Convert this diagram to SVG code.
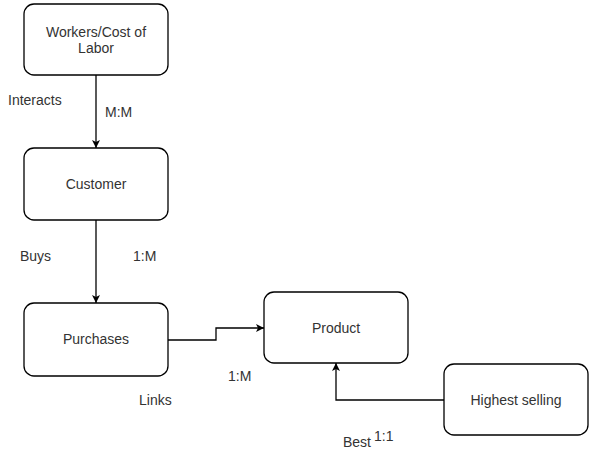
<svg xmlns="http://www.w3.org/2000/svg" width="609" height="456" viewBox="0 0 609 456">
<style>
.box{fill:#ffffff;stroke:#000000;stroke-width:1.3}
.t{font-family:"Liberation Sans",Arial,sans-serif;font-size:14px;fill:#333333}
.c{text-anchor:middle}
.ln{fill:none;stroke:#000000;stroke-width:1.3}
</style>
<defs>
<marker id="ah" viewBox="0 0 10 10" refX="10" refY="5" markerWidth="8" markerHeight="8" markerUnits="userSpaceOnUse" orient="auto">
<path d="M0,0 L10,5 L0,10 L2.5,5 z" fill="#000000"/>
</marker>
</defs>
<rect width="609" height="456" fill="#ffffff"/>
<g id="connectors">
<path class="ln" d="M96,75 L96,148" marker-end="url(#ah)"/>
<path class="ln" d="M96,220 L96,303" marker-end="url(#ah)"/>
<path class="ln" d="M168,340 L216,340 L216,328 L264,328" marker-end="url(#ah)"/>
<path class="ln" d="M444,400 L336,400 L336,363" marker-end="url(#ah)"/>
</g>
<g id="workers">
<rect class="box" x="24" y="4" width="144" height="71" rx="10"/>
<text class="t c" x="96" y="37">Workers/Cost of</text>
<text class="t c" x="96" y="53">Labor</text>
</g>
<g id="customer">
<rect class="box" x="24" y="148" width="144" height="72" rx="10"/>
<text class="t c" x="96" y="189">Customer</text>
</g>
<g id="purchases">
<rect class="box" x="24" y="303" width="144" height="73" rx="10"/>
<text class="t c" x="96" y="344">Purchases</text>
</g>
<g id="product">
<rect class="box" x="264" y="292" width="144" height="71" rx="10"/>
<text class="t c" x="336" y="333">Product</text>
</g>
<g id="highest">
<rect class="box" x="444" y="364" width="144" height="71" rx="10"/>
<text class="t c" x="516" y="405">Highest selling</text>
</g>
<g id="labels">
<text class="t" x="8" y="105">Interacts</text>
<text class="t" x="105" y="117">M:M</text>
<text class="t" x="20" y="261">Buys</text>
<text class="t" x="133" y="261">1:M</text>
<text class="t" x="228" y="381">1:M</text>
<text class="t" x="139" y="405">Links</text>
<text class="t" x="343" y="447">Best</text>
<text class="t" x="374" y="441">1:1</text>
</g>
</svg>
